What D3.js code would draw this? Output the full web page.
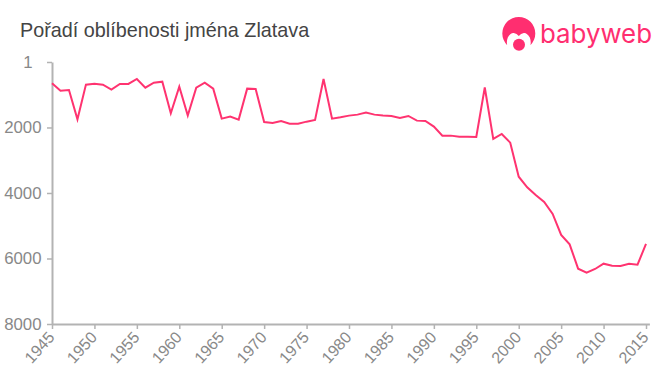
<!DOCTYPE html>
<html>
<head>
<meta charset="utf-8">
<script src="https://cdn.jsdelivr.net/npm/d3@7/dist/d3.min.js"></script>
<style>
  html, body { margin: 0; padding: 0; background: #fff; }
  svg { display: block; }
</style>
</head>
<body>
<div id="chart"></div>
<script>
// Rank of the name per year
const years = [1945,1946,1947,1948,1949,1950,1951,1952,1953,1954,1955,1956,1957,1958,1959,1960,1961,1962,1963,1964,
  1965,1966,1967,1968,1969,1970,1971,1972,1973,1974,1975,1976,1977,1978,1979,1980,1981,1982,1983,1984,
  1985,1986,1987,1988,1989,1990,1991,1992,1993,1994,1995,1996,1997,1998,1999,2000,2001,2002,2003,2004,
  2005,2006,2007,2008,2009,2010,2011,2012,2013,2014,2015];
const ranks = [650,876,855,1750,692,662,692,845,672,672,519,784,631,601,1567,753,1638,784,631,814,
  1730,1669,1760,814,824,1832,1863,1802,1883,1883,1822,1771,519,1730,1690,1638,1608,1547,1608,1638,
  1649,1710,1649,1791,1802,1974,2249,2249,2280,2280,2290,780,2351,2198,2463,3502,3826,4061,4275,4641,
  5282,5567,6311,6433,6320,6158,6219,6229,6158,6189,5557];
const xTicks = [1945,1950,1955,1960,1965,1970,1975,1980,1985,1990,1995,2000,2005,2010,2015];
const yTicks = [1,2000,4000,6000,8000];

const title = "Pořadí oblíbenosti jména Zlatava";
const pink = "#ff3370";
const logoPink = "#ff2e70";

const svg = d3.select("#chart").append("svg")
    .attr("width", 660)
    .attr("height", 375);

// the axis runs a little past 2015
const xScale = d3.scaleLinear().domain([1945, 2015.4]).range([52, 649.4]);
const yScale = d3.scaleLinear().domain([1, 8000]).range([62, 324]);

// x axis with rotated labels
const xAxis = svg.append("g")
    .attr("transform", "translate(0,324)")
    .call(d3.axisBottom(xScale).tickValues(xTicks).tickFormat(d3.format("d")).tickSize(5).tickSizeOuter(0));

xAxis.selectAll("text")
    .attr("text-anchor", "end")
    .attr("x", 0)
    .attr("y", 0)
    .attr("dy", 0)
    .attr("transform", "translate(3,14) rotate(-48)")
    .style("font-size", "16px");

// y axis
const yAxis = svg.append("g")
    .attr("transform", "translate(52,0)")
    .call(d3.axisLeft(yScale).tickValues(yTicks).tickFormat(d3.format("d")).tickSize(5).tickSizeOuter(0));

// the "1" sits further left than the other labels in the reference
yAxis.selectAll("text")
    .attr("x", function(d) { return d === 1 ? -19.5 : -10.5; })
    .style("font-size", "16.8px");

svg.selectAll(".domain").style("stroke", "#b3b3b3").style("stroke-width", 2);
svg.selectAll(".tick line").style("stroke", "#b3b3b3").style("stroke-width", 1.5);
svg.selectAll(".tick text")
    .style("font-family", "'Liberation Sans', Arial, sans-serif")
    .style("fill", "#888888");

// the line
const line = d3.line()
    .x(function(d, i) { return xScale(years[i]); })
    .y(function(d) { return yScale(d); });

svg.append("path")
    .datum(ranks)
    .attr("d", line)
    .attr("fill", "none")
    .attr("stroke", pink)
    .attr("stroke-width", 2);

// title
svg.append("text")
    .attr("x", 20)
    .attr("y", 37)
    .style("font-family", "'Liberation Sans', Arial, sans-serif")
    .style("font-size", "19.8px")
    .style("fill", "#444444")
    .text(title);

// logo
const logo = svg.append("g").attr("transform", "translate(518.8,33.5)");
logo.append("path")
    .attr("d", "M-11.6,11.7 A16.5,16.5 0 1 1 11.6,11.7 Q12.5,8 11,4 Q8,-1 5,-0.5 Q2,0 0,2.5 Q-2,0 -5,-0.5 Q-8,-1 -11,4 Q-12.5,8 -11.6,11.7 Z")
    .attr("fill", logoPink);
logo.append("circle").attr("cx", 0.2).attr("cy", 11.2).attr("r", 6).attr("fill", logoPink);

svg.append("text")
    .attr("x", 540)
    .attr("y", 42.7)
    .attr("textLength", 112)
    .attr("lengthAdjust", "spacingAndGlyphs")
    .style("font-family", "Inter, 'DejaVu Sans', sans-serif")
    .style("font-size", "26px")
    .style("font-weight", 400)
    .style("fill", logoPink)
    .text("babyweb");
</script>
</body>
</html>
